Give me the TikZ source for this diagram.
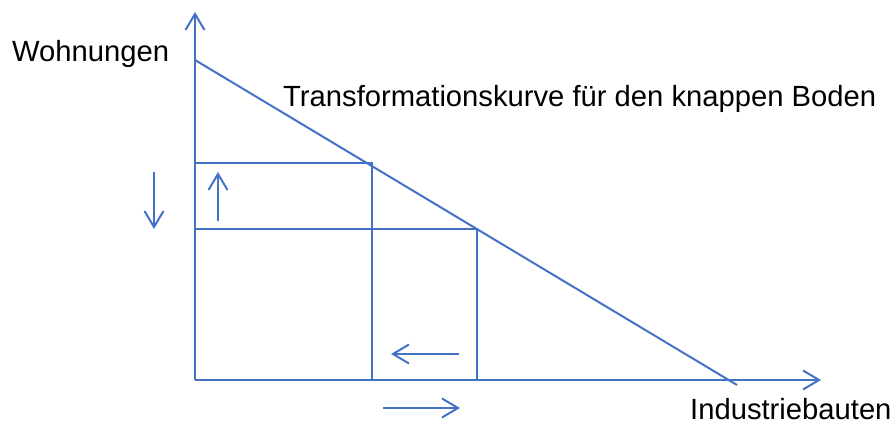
\documentclass[tikz,border=0pt]{standalone}
\usepackage{fontspec}
\setmainfont{Liberation Sans}
\usetikzlibrary{arrows.meta}
\definecolor{ln}{RGB}{68,114,196}
\tikzset{
  ax/.style={draw=ln, line width=2pt},
  arr/.style={draw=ln, line width=2pt, -{Straight Barb[length=16pt,width=19pt,line width=2pt]}},
  lbl/.style={font=\fontsize{29.2}{33}\selectfont, inner sep=0pt, anchor=base west, text=black}
}
\begin{document}
\begin{tikzpicture}[x=1pt,y=-1pt]
\useasboundingbox (0,0) rectangle (895,425);
% coordinates
\coordinate (O) at (195,380);
\coordinate (ytop) at (195,12);
\coordinate (xend) at (821,380);
\coordinate (d0) at (195,60);
\coordinate (d1) at (737,385);
\coordinate (p1) at (372,163);
\coordinate (p1l) at (195,163);
\coordinate (p1b) at (372,380);
\coordinate (p2) at (477,229);
\coordinate (p2l) at (195,229);
\coordinate (p2b) at (477,380);
\coordinate (ua0) at (218,221);
\coordinate (ua1) at (218,172);
\coordinate (da0) at (154,172);
\coordinate (da1) at (154,229);
\coordinate (la0) at (459,354);
\coordinate (la1) at (391,354);
\coordinate (ra0) at (383,408);
\coordinate (ra1) at (460,408);
% axes
\draw[arr] (O) -- (ytop);
\draw[arr] (O) -- (xend);
% transformation curve
\draw[ax] (d0) -- (d1);
% rectangles
\draw[ax] (p1l) -- (p1) -- (p1b);
\draw[ax] (p2l) -- (p2) -- (p2b);
% small arrows
\draw[arr] (ua0) -- (ua1);
\draw[arr] (da0) -- (da1);
\draw[arr] (la0) -- (la1);
\draw[arr] (ra0) -- (ra1);
% labels
\node[lbl] (w) at (12,62) {Wohnungen};
\node[lbl] (t) at (283,107) {Transformationskurve für den knappen Boden};
\node[lbl] (i) at (690,419) {Industriebauten};
\end{tikzpicture}
\end{document}
